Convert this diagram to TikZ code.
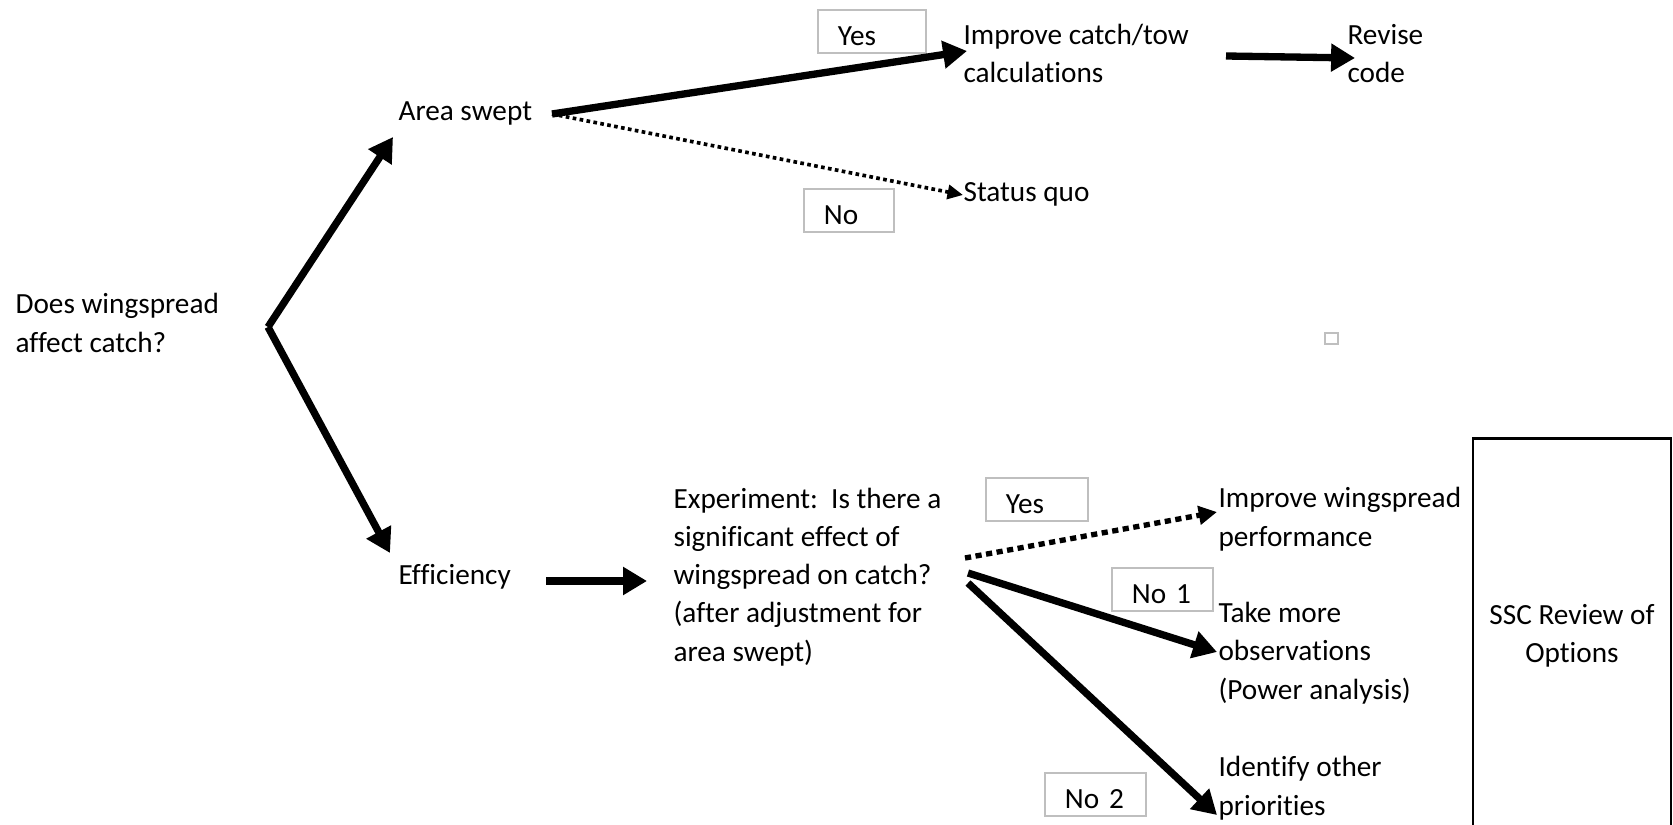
\documentclass[tikz,border=0pt]{standalone}
\usepackage{fontspec}
\setmainfont{Carlito}[Ligatures=NoCommon]
\usetikzlibrary{arrows.meta}
\definecolor{box_gray}{RGB}{191, 191, 191}
% base west of a multi-line node is the baseline of its last line
\tikzstyle{txt}=[anchor=base west,align=left,inner sep=0pt,
  font=\fontsize{10.4pt}{13.6pt}\selectfont]
\tikzstyle{lbl}=[rectangle,draw=box_gray,line width=0.7pt,anchor=north west,
  inner xsep=7.1pt,inner ysep=0pt,text height=12.8pt,text depth=2.5pt,
  align=left,font=\fontsize{10.4pt}{13.6pt}\selectfont]
\tikzstyle{ssc}=[rectangle,draw=black,line width=1pt,anchor=north,align=center,
  minimum width=70.4pt,minimum height=140.2pt,font=\fontsize{10.4pt}{13.6pt}\selectfont]
\tikzstyle{fat}=[line width=2.6pt,-{Triangle[length=8.5pt,width=9.5pt]}]
\tikzstyle{dots}=[line width=1.3pt,dash pattern=on 1.3pt off 1.2pt,
  -{Triangle[length=5.5pt,width=5pt]}]
\tikzstyle{dashes}=[line width=1.9pt,dash pattern=on 2.2pt off 1.6pt,
  -{Triangle[length=6.5pt,width=6.5pt]}]

\begin{document}
\begin{tikzpicture}[x=0.0125cm,y=-0.0125cm]
    \useasboundingbox (0,0) rectangle (1673,825);
    \node [style=txt] (q) at (15,352) {Does wingspread\\affect catch?};
    \node [style=txt] (area) at (398,121) {Area swept};
    \node [style=txt] (eff) at (398,584) {Efficiency};
    \node [style=txt] (imp) at (963,83) {Improve catch/tow\\calculations};
    \node [style=txt] (rev) at (1347,83) {Revise\\code};
    \node [style=txt] (sq) at (963,201) {Status quo};
    \node [style=txt] (exp) at (673,661) {Experiment:\ \ Is there a\\significant effect of\\wingspread on catch?\\(after adjustment for\\area swept)};
    \node [style=txt] (iwp) at (1218,546) {Improve wingspread\\performance};
    \node [style=txt] (tmo) at (1218,699) {Take more\\observations\\(Power analysis)};
    \node [style=txt] (iop) at (1218,815) {Identify other\\priorities};
    \node [style=ssc] (rev_opt) at (1572,437) {SSC Review of\\Options};
    \node [style=lbl,text width=24.2pt] (yes1) at (817,9) {Yes};
    \node [style=lbl,text width=17.8pt] (no1) at (803,188) {No};
    \node [style=lbl,text width=22.1pt] (yes2) at (985,477) {Yes};
    \node [style=lbl,text width=21.7pt] (no_a) at (1111,567) {No 1};
    \node [style=lbl,text width=21.7pt] (no_b) at (1044,772) {No 2};
    \draw [draw=box_gray,line width=0.7pt] (1325,333) rectangle (1338,344);
    % arrow ends
    \coordinate (qs) at (268,327);
    \coordinate (qa) at (393,137);
    \coordinate (qe) at (390,553);
    \coordinate (as) at (552,114);
    \coordinate (ai) at (967,51);
    \coordinate (aq) at (963,195);
    \coordinate (is) at (1226,56);
    \coordinate (ie) at (1355,58);
    \coordinate (es) at (546,581);
    \coordinate (ee) at (647,581);
    \coordinate (xs1) at (965,558);
    \coordinate (xs2) at (968,573);
    \coordinate (xs3) at (968,583);
    \coordinate (xw) at (1217,512);
    \coordinate (xt) at (1217,652);
    \coordinate (xo) at (1217,815);
    \draw [style=fat] (qs) to (qa);
    \draw [style=fat] (qs) to (qe);
    \draw [style=fat] (as) to (ai);
    \draw [style=dots] (as) to (aq);
    \draw [style=fat] (is) to (ie);
    \draw [style=fat] (es) to (ee);
    \draw [style=dashes] (xs1) to (xw);
    \draw [style=fat] (xs2) to (xt);
    \draw [style=fat] (xs3) to (xo);
\end{tikzpicture}
\end{document}
